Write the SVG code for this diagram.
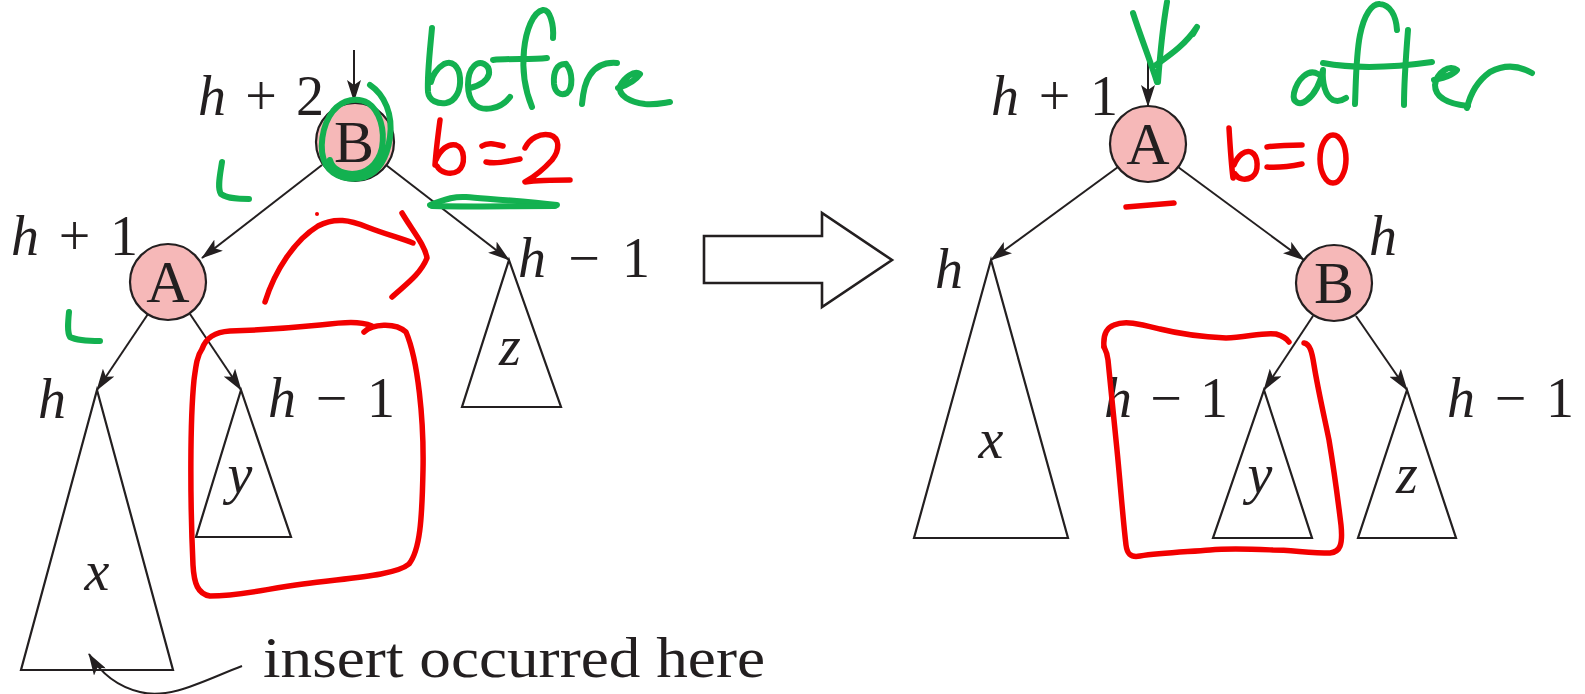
<svg xmlns="http://www.w3.org/2000/svg" width="1585" height="694" viewBox="0 0 1585 694">
<style>
  text { font-family: "Liberation Serif", "Times New Roman", serif; font-size: 56px; fill: #231f20; }
  .i { font-style: italic; }
  .nl { font-size: 60px; }
  .node { fill: #f6b8b8; stroke: #231f20; stroke-width: 2.2; }
  .tri { fill: none; stroke: #231f20; stroke-width: 2.2; stroke-linejoin: miter; }
  .edge { fill: none; stroke: #231f20; stroke-width: 2; }
  .ink-g { fill: none; stroke: #13b150; stroke-width: 6; stroke-linecap: round; stroke-linejoin: round; }
  .ink-r { fill: none; stroke: #f20000; stroke-width: 5.5; stroke-linecap: round; stroke-linejoin: round; }
</style>
<defs>
  <marker id="ah" viewBox="0 0 22 14" refX="21" refY="7" markerWidth="22" markerHeight="14" markerUnits="userSpaceOnUse" orient="auto">
    <path d="M0,0 L22,7 L0,14 L5,7 z" fill="#231f20"/>
  </marker>
</defs>
<rect width="1585" height="694" fill="#ffffff"/>

<!-- connectors -->
<g id="connectors">
  <path class="edge" d="M354,50 L354,101" marker-end="url(#ah)"/>
  <path class="edge" d="M322,165 L202,258" marker-end="url(#ah)"/>
  <path class="edge" d="M386,165 L509,260" marker-end="url(#ah)"/>
  <path class="edge" d="M148,314 L97,390" marker-end="url(#ah)"/>
  <path class="edge" d="M190,314 L241,390" marker-end="url(#ah)"/>
  <path class="edge" d="M242,666 C205,680 170,700 140,692 C115,686 100,672 89,654" marker-end="url(#ah)"/>
  <path class="edge" d="M1148,50 L1148,106" marker-end="url(#ah)"/>
  <path class="edge" d="M1118,167 L991,260" marker-end="url(#ah)"/>
  <path class="edge" d="M1178,167 L1304,260" marker-end="url(#ah)"/>
  <path class="edge" d="M1313,316 L1264,390" marker-end="url(#ah)"/>
  <path class="edge" d="M1356,316 L1407,390" marker-end="url(#ah)"/>
</g>

<!-- big hollow arrow -->
<g id="transform-arrow">
  <polygon points="704,236 822,236 822,213 892,260 822,307 822,283 704,283" fill="#ffffff" stroke="#231f20" stroke-width="2.6"/>
</g>

<!-- left tree -->
<g id="left-B">
  <circle class="node" cx="355" cy="142" r="39" stroke-width="5"/>
  <text class="nl" x="354" y="162" text-anchor="middle">B</text>
</g>
<g id="left-A">
  <circle class="node" cx="168" cy="282" r="38"/>
  <text class="nl" x="168" y="302" text-anchor="middle">A</text>
</g>
<g id="left-x">
  <polygon class="tri" points="97,390 173,670 21,670"/>
  <text class="i" x="97" y="590" text-anchor="middle">x</text>
</g>
<g id="left-y">
  <polygon class="tri" points="241,390 291,537 196,537"/>
  <text class="i" x="240" y="493" text-anchor="middle">y</text>
</g>
<g id="left-z">
  <polygon class="tri" points="509,260 561,407 462,407"/>
  <text class="i" x="510" y="365" text-anchor="middle">z</text>
</g>

<!-- right tree -->
<g id="right-A">
  <circle class="node" cx="1148" cy="144" r="38"/>
  <text class="nl" x="1148" y="164" text-anchor="middle">A</text>
</g>
<g id="right-B">
  <circle class="node" cx="1334" cy="283" r="38"/>
  <text class="nl" x="1334" y="303" text-anchor="middle">B</text>
</g>
<g id="right-x">
  <polygon class="tri" points="991,260 1068,538 914,538"/>
  <text class="i" x="991" y="458" text-anchor="middle">x</text>
</g>
<g id="right-y">
  <polygon class="tri" points="1264,390 1312,538 1213,538"/>
  <text class="i" x="1260" y="493" text-anchor="middle">y</text>
</g>
<g id="right-z">
  <polygon class="tri" points="1407,390 1456,538 1358,538"/>
  <text class="i" x="1407" y="493" text-anchor="middle">z</text>
</g>

<!-- height labels -->
<g id="labels">
  <text x="198" y="115" textLength="126" lengthAdjust="spacing"><tspan class="i">h</tspan> + 2</text>
  <text x="11" y="255" textLength="127" lengthAdjust="spacing"><tspan class="i">h</tspan> + 1</text>
  <text x="518" y="277" textLength="132" lengthAdjust="spacing"><tspan class="i">h</tspan> − 1</text>
  <text class="i" x="38" y="418">h</text>
  <text x="268" y="417" textLength="127" lengthAdjust="spacing"><tspan class="i">h</tspan> − 1</text>
  <text x="991" y="115" textLength="127" lengthAdjust="spacing"><tspan class="i">h</tspan> + 1</text>
  <text class="i" x="935" y="288">h</text>
  <text class="i" x="1369" y="255">h</text>
  <text x="1104" y="417" textLength="124" lengthAdjust="spacing"><tspan class="i">h</tspan> − 1</text>
  <text x="1447" y="417" textLength="127" lengthAdjust="spacing"><tspan class="i">h</tspan> − 1</text>
  <text x="263" y="677" textLength="502" lengthAdjust="spacingAndGlyphs">insert occurred here</text>
</g>

<!-- handwritten annotations -->
<g id="ink-green">
  <!-- before -->
  <path class="ink-g" d="M432,28 C430,50 427,75 428,92 C429,101 438,104 446,103 C456,101 461,90 460,78 C459,66 452,60 444,64 C437,68 432,76 431,82"/>
  <path class="ink-g" d="M470,88 C478,86 487,82 489,74 C490,64 480,60 474,66 C466,74 466,95 474,104 C482,112 500,110 510,97"/>
  <path class="ink-g" d="M532,107 C525,90 522,70 524,50 C526,30 533,12 543,10 C550,9 554,25 553,38"/>
  <path class="ink-g" d="M493,60 C510,58 530,60 547,58"/>
  <path class="ink-g" d="M566,64 C557,63 553,72 554,84 C555,93 561,96 567,93 C573,88 573,72 566,64"/>
  <path class="ink-g" d="M582,104 C583,93 585,82 590,75 C596,66 605,62 617,63"/>
  <path class="ink-g" d="M618,88 C627,85 636,80 640,74 C634,70 624,78 620,86 C618,96 630,102 645,104 C655,105 663,103 670,102"/>
  <!-- underline -->
  <path class="ink-g" stroke-width="6" d="M430,205 C442,201 452,196 466,197 C490,199 525,201 557,205"/>
  <path class="ink-g" stroke-width="5" d="M432,206 C470,207 515,206 555,206"/>
  <!-- circle around B -->
  <path class="ink-g" stroke-width="5" d="M370,85 C385,95 393,115 390,137 C387,158 378,172 365,177 C350,181 334,178 326,165 C318,150 322,125 333,111 C343,99 358,97 368,103 C380,111 385,130 382,148 C378,165 366,174 352,174 C340,173 332,168 330,160"/>
  <!-- L marks -->
  <path class="ink-g" d="M222,162 C220,175 217,188 221,194 C228,199 240,199 249,199"/>
  <path class="ink-g" d="M69,312 C68,322 67,332 70,337 C78,341 90,341 100,341"/>
  <!-- after -->
  <path class="ink-g" d="M1318,74 C1308,68 1297,80 1294,93 C1292,103 1300,106 1307,100 C1315,94 1320,84 1323,70 C1322,82 1325,96 1333,100 C1338,102 1343,100 1346,98"/>
  <path class="ink-g" d="M1355,104 C1356,80 1356,55 1360,35 C1364,15 1372,3 1380,4 C1390,5 1396,15 1397,30"/>
  <path class="ink-g" d="M1323,63 C1350,68 1390,68 1432,62"/>
  <path class="ink-g" d="M1408,30 C1406,55 1404,80 1404,105"/>
  <path class="ink-g" d="M1434,80 C1442,78 1452,76 1457,70 C1450,64 1437,72 1435,85 C1435,98 1450,104 1468,106"/>
  <path class="ink-g" d="M1467,108 C1470,95 1476,82 1490,72 C1505,64 1520,66 1532,73"/>
  <!-- V arrow -->
  <path class="ink-g" d="M1133,13 C1140,35 1150,60 1157,82"/>
  <path class="ink-g" d="M1167,2 C1163,25 1160,55 1158,82"/>
  <path class="ink-g" d="M1156,65 C1170,55 1185,45 1197,27 L1193,34"/>
</g>

<g id="ink-red">
  <!-- b=2 -->
  <path class="ink-r" d="M440,120 C438,135 436,150 435,165"/>
  <path class="ink-r" d="M436,160 C440,150 448,143 456,145 C465,148 466,165 458,171 C450,176 440,172 437,166"/>
  <path class="ink-r" d="M482,146 C488,142 495,144 503,146"/>
  <path class="ink-r" d="M486,162 C495,164 505,162 520,159"/>
  <path class="ink-r" d="M525,148 C530,138 540,133 550,135 C560,138 560,150 552,160 C543,170 532,178 525,182 C540,180 555,180 570,180"/>
  <!-- curved rotation arrow -->
  <path class="ink-r" d="M265,302 C275,270 295,240 318,226 C335,217 350,220 367,227 C385,234 400,238 413,243"/>
  <path class="ink-r" d="M402,213 C412,230 425,245 427,258 C420,275 405,285 392,297"/>
  <circle cx="317" cy="214" r="2" fill="#f20000"/>
  <!-- left loop -->
  <path class="ink-r" d="M202,349 C206,338 214,332 230,331 C260,330 290,328 320,325 C345,322 360,321 372,326 M364,332 C372,324 395,322 406,332 C418,360 424,420 423,470 C422,520 420,550 409,564 C395,576 345,578 303,584 C265,589 240,596 210,596 C198,594 194,584 193,565 C190,500 190,420 194,380 C196,365 197,356 202,349"/>
  <!-- b=0 -->
  <path class="ink-r" d="M1229,128 C1230,145 1231,162 1233,178"/>
  <path class="ink-r" d="M1234,165 C1238,155 1245,150 1251,152 C1259,156 1259,172 1252,177 C1245,181 1238,179 1235,174"/>
  <path class="ink-r" d="M1267,147 C1280,145 1292,145 1302,145"/>
  <path class="ink-r" d="M1267,167 C1280,168 1292,166 1302,164"/>
  <ellipse class="ink-r" cx="1333" cy="159" rx="13" ry="24"/>
  <!-- dash under A -->
  <path class="ink-r" stroke-width="6.5" d="M1126,207 L1174,203"/>
  <!-- right loop -->
  <path class="ink-r" d="M1104,347 C1103,336 1106,328 1114,325 C1125,320 1140,324 1160,329 C1180,334 1205,337 1226,338 C1245,338 1262,332 1276,334 C1283,336 1287,339 1289,342"/>
  <path class="ink-r" d="M1304,343 C1310,344 1312,352 1314,365 C1318,390 1325,420 1329,440 C1334,470 1338,500 1341,525 C1343,545 1340,552 1330,553 C1310,553 1290,550 1273,550 C1250,549 1230,548 1210,550 C1185,552 1160,553 1140,556 C1130,558 1127,553 1126,545 C1123,520 1120,480 1117,450 C1114,420 1111,390 1108,360 C1107,352 1105,349 1104,347"/>
</g>
</svg>
